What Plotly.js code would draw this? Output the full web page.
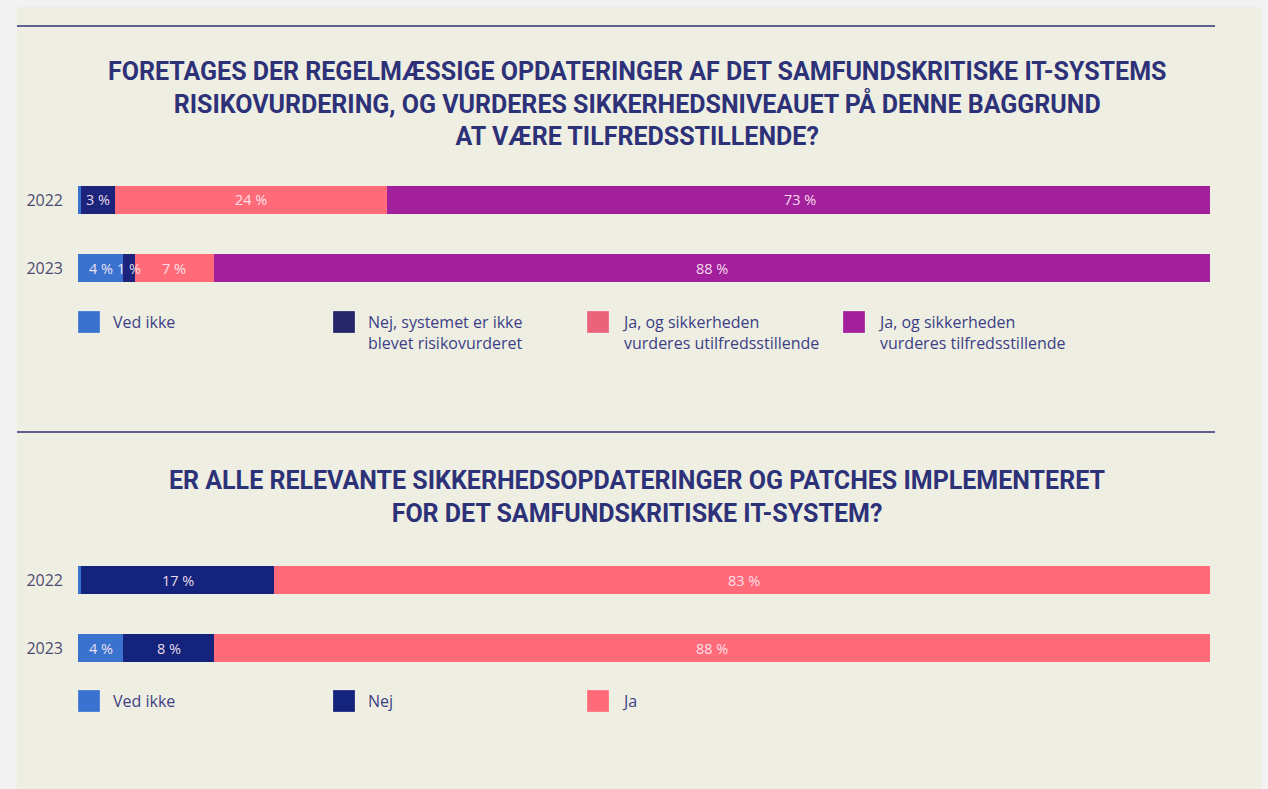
<!DOCTYPE html>
<html>
<head>
<meta charset="utf-8">
<script src="https://cdn.plot.ly/plotly-3.0.1.min.js"></script>
<style>
  html, body { margin: 0; padding: 0; background: #f2f2f2; }
  #chart { width: 1268px; height: 789px; }
</style>
</head>
<body>
<div id="chart"></div>
<script>
// ---------- DATA ----------
const years = ['2022', '2023'];

// Chart 1
const q1Title = 'FORETAGES DER REGELMÆSSIGE OPDATERINGER AF DET SAMFUNDSKRITISKE IT-SYSTEMS<br>RISIKOVURDERING, OG VURDERES SIKKERHEDSNIVEAUET PÅ DENNE BAGGRUND<br>AT VÆRE TILFREDSSTILLENDE?';
const q1Names = ['Ved ikke', 'Nej, systemet er ikke<br>blevet risikovurderet', 'Ja, og sikkerheden<br>vurderes utilfredsstillende', 'Ja, og sikkerheden<br>vurderes tilfredsstillende'];
const q1VedIkke = [0.3, 4];
const q1Nej = [3, 1];
const q1JaUtilfreds = [24, 7];
const q1JaTilfreds = [73, 88];

// Chart 2
const q2Title = 'ER ALLE RELEVANTE SIKKERHEDSOPDATERINGER OG PATCHES IMPLEMENTERET<br>FOR DET SAMFUNDSKRITISKE IT-SYSTEM?';
const q2Names = ['Ved ikke', 'Nej', 'Ja'];
const q2VedIkke = [0.3, 4];
const q2Nej = [17, 8];
const q2Ja = [83, 88];

// ---------- STYLE ----------
const W = 1268, H = 789;
const px = x => x / W;
const py = y => 1 - y / H;
const q1Colors = ['#3a72cf', '#1b237a', '#ff6b79', '#a3209c'];
const q1LegendColors = ['#3a72cf', '#25276a', '#ea637b', '#a3209c'];
const q2Colors = ['#3a72cf', '#14237c', '#ff6b79'];
const titleColor = '#2d3278';
const textColor = '#3c3f86';
const FONT = 'Roboto, "Liberation Sans", sans-serif';
const FONT2 = '"Open Sans", Roboto, sans-serif';

const traces = [];
const annotations = [];
const shapes = [];

function addChart(series, names, colors, legendColors, xa, ya, legendY) {
  const cum = years.map(() => 0);
  series.forEach((vals, i) => {
    traces.push({
      type: 'bar', orientation: 'h', y: years, x: vals, name: names[i],
      xaxis: xa, yaxis: ya, marker: { color: colors[i], line: { width: 0 } },
      hoverinfo: 'x+y', showlegend: false
    });
    vals.forEach((v, j) => {
      if (v >= 1) {
        annotations.push({
          xref: xa, yref: ya, x: cum[j] + v / 2, y: j,
          text: v + ' %', showarrow: false,
          font: { family: FONT2, size: 14.5, color: 'rgba(255,236,246,0.92)' }
        });
      }
      cum[j] += v;
    });
  });
  // legend
  const cols = [78, 333, 587, 843];
  names.forEach((n, i) => {
    shapes.push({
      type: 'rect', xref: 'paper', yref: 'paper', layer: 'above',
      x0: px(cols[i]), x1: px(cols[i] + 22), y0: py(legendY), y1: py(legendY + 22),
      fillcolor: legendColors[i], line: { width: 0.5, color: 'rgba(255,255,255,0.5)' }
    });
    annotations.push({
      xref: 'paper', yref: 'paper', x: px(cols[i] + 33), y: py(legendY - 2),
      xanchor: 'left', yanchor: 'top', align: 'left', showarrow: false,
      text: n, font: { family: FONT2, size: 16, color: textColor }
    });
  });
}

addChart([q1VedIkke, q1Nej, q1JaUtilfreds, q1JaTilfreds], q1Names, q1Colors, q1LegendColors, 'x', 'y', 311);
addChart([q2VedIkke, q2Nej, q2Ja], q2Names, q2Colors, q2Colors, 'x2', 'y2', 690);

annotations.push({
  xref: 'paper', yref: 'paper', x: px(637), y: py(104), xanchor: 'center', yanchor: 'middle',
  text: q1Title, showarrow: false, align: 'center',
  font: { family: FONT, size: 25, weight: 700, color: titleColor }
});
annotations.push({
  xref: 'paper', yref: 'paper', x: px(637), y: py(497), xanchor: 'center', yanchor: 'middle',
  text: q2Title, showarrow: false, align: 'center',
  font: { family: FONT, size: 25, weight: 700, color: titleColor }
});

// panel background and rules
shapes.unshift({
  type: 'rect', xref: 'paper', yref: 'paper', layer: 'below',
  x0: px(17), x1: px(1262), y0: 0, y1: py(7), fillcolor: '#efeee3', line: { width: 0 }
});
[26, 432].forEach(yy => shapes.push({
  type: 'line', xref: 'paper', yref: 'paper', layer: 'above',
  x0: px(17), x1: px(1215), y0: py(yy), y1: py(yy), line: { color: '#5f6191', width: 2 }
}));

const xaxisBase = { range: [0, 100], visible: false, fixedrange: true, domain: [px(78), px(1210)] };
const yaxisBase = {
  type: 'category', range: [1.5, -0.5], showgrid: false, zeroline: false, showline: false,
  ticks: '', ticklabelstandoff: 14, tickfont: { family: FONT2, size: 16, color: '#4b4d70' }, fixedrange: true
};

const layout = {
  width: W, height: H,
  margin: { l: 0, r: 0, t: 0, b: 0 },
  paper_bgcolor: '#f2f2f2', plot_bgcolor: 'rgba(0,0,0,0)',
  barmode: 'stack', bargap: 0.59,
  showlegend: false,
  xaxis: Object.assign({}, xaxisBase, { anchor: 'y' }),
  yaxis: Object.assign({}, yaxisBase, { anchor: 'x', domain: [py(302), py(166)] }),
  xaxis2: Object.assign({}, xaxisBase, { anchor: 'y2' }),
  yaxis2: Object.assign({}, yaxisBase, { anchor: 'x2', domain: [py(682), py(546)] }),
  annotations: annotations,
  shapes: shapes
};

Plotly.newPlot('chart', traces, layout, { displayModeBar: false, staticPlot: true });
</script>
</body>
</html>
